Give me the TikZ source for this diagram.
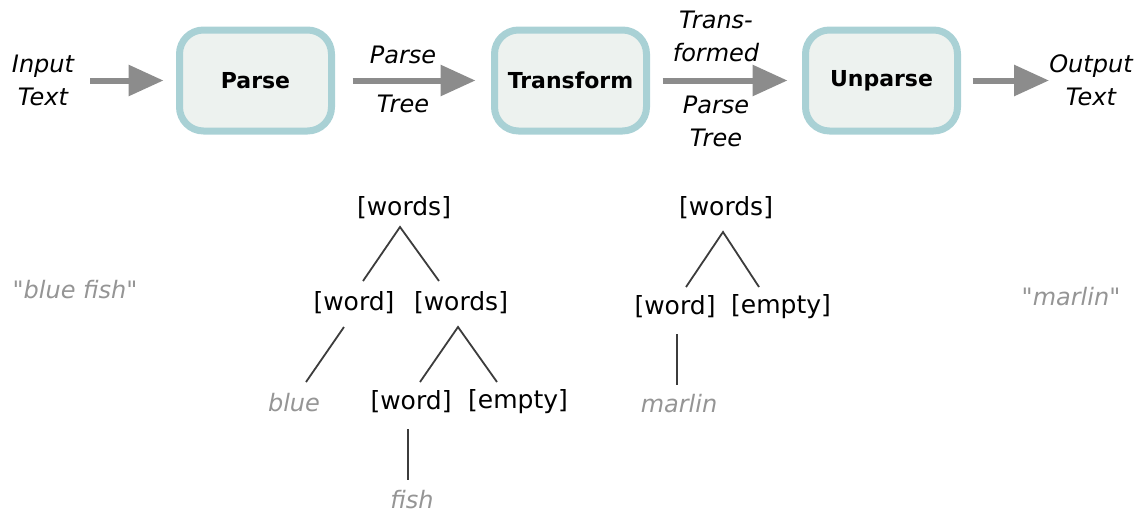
\documentclass[tikz,border=0pt]{standalone}
\usepackage{fontspec}
\setmainfont{DejaVu Sans}[Ligatures=TeXOff]
\usetikzlibrary{arrows.meta}
\definecolor{boxedge}{HTML}{A9D1D5}
\definecolor{boxfill}{HTML}{EDF2EF}
\definecolor{arrgray}{HTML}{8C8C8C}
\definecolor{leafgray}{HTML}{959595}
\definecolor{treeline}{HTML}{3C3C3C}
\begin{document}
\begin{tikzpicture}[x=1pt,y=-1pt,
  stage/.style={draw=boxedge, fill=boxfill, line width=7pt, rounded corners=24pt,
    minimum width=152pt, minimum height=101pt, inner sep=0pt,
    font=\fontsize{22}{26}\selectfont\bfseries},
  lbl/.style={font=\fontsize{24}{33}\selectfont\itshape, align=center, inner sep=0pt},
  flow/.style={draw=arrgray, line width=6pt, -{Triangle[length=35pt,width=30pt]}},
  tn/.style={font=\fontsize{25}{30}\selectfont, inner sep=0pt},
  leaf/.style={font=\fontsize{24}{30}\selectfont\itshape, text=leafgray, inner sep=0pt},
  branch/.style={draw=treeline, line width=1.8pt}]
\useasboundingbox (0,0) rectangle (1146,514);

% pipeline
\node[lbl] (in) at (43,80) {Input\\Text};
\node[stage] (parse) at (255.5,80.5) {Parse};
\node[stage] (trans) at (570.5,80.5) {Transform};
\node[stage] (unparse) at (881.5,80.5) {Unparse};
\node[lbl] (out) at (1091,80) {Output\\Text};
\coordinate (outin) at (1049,80.5);

\node[lbl] (pt1) at (403,55) {Parse};
\node[lbl] (pt2) at (403,104) {Tree};
\node[lbl] (tp1) at (716,36) {Trans-\\formed};
\node[lbl] (tp2) at (716,121) {Parse\\Tree};

\draw[flow, shorten <=16pt, shorten >=12.5pt] (in.east |- parse.west) -- (parse.west);
\draw[flow, shorten <=17.5pt, shorten >=15.5pt] (parse.east) -- (trans.west);
\draw[flow, shorten <=12.5pt, shorten >=14.5pt] (trans.east) -- (unparse.west);
\draw[flow, shorten <=11.5pt] (unparse.east) -- (outin);

% strings
\node[leaf] (s1) at (75,290) {"blue fish"};
\node[leaf] (s2) at (1071,297) {"marlin"};

% tree 1
\node[tn] (w1) at (404,208) {[words]};
\node[tn] (wd1) at (354,303) {[word]};
\node[tn] (ws1) at (461,303) {[words]};
\node[leaf] (blue) at (294,403) {blue};
\node[tn] (wd2) at (411,402) {[word]};
\node[tn] (em1) at (518,402) {[empty]};
\node[leaf] (fish) at (412,500) {fish};
\coordinate (a1) at (400,227);
\coordinate (a1l) at (363,281);
\coordinate (a1r) at (439,281);
\coordinate (b1) at (344,327);
\coordinate (b1e) at (306,382);
\coordinate (c1) at (458,327);
\coordinate (c1l) at (420,382);
\coordinate (c1r) at (497,382);
\coordinate (d1) at (408,429);
\coordinate (d1e) at (408,480);
\draw[branch] (a1l) -- (a1) -- (a1r);
\draw[branch] (b1) -- (b1e);
\draw[branch] (c1l) -- (c1) -- (c1r);
\draw[branch] (d1) -- (d1e);

% tree 2
\node[tn] (w2) at (726,208) {[words]};
\node[tn] (wd3) at (675,307) {[word]};
\node[tn] (em2) at (781,307) {[empty]};
\node[leaf] (marlin) at (679,404) {marlin};
\coordinate (a2) at (723,232);
\coordinate (a2l) at (686,287);
\coordinate (a2r) at (759,287);
\coordinate (b2) at (677,334);
\coordinate (b2e) at (677,385);
\draw[branch] (a2l) -- (a2) -- (a2r);
\draw[branch] (b2) -- (b2e);
\end{tikzpicture}
\end{document}
